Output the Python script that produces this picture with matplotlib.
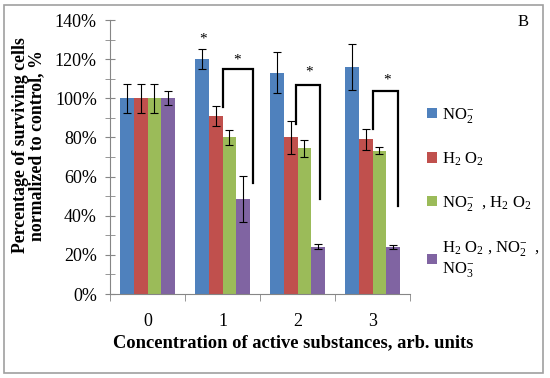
import numpy as np
import matplotlib
matplotlib.use("Agg")
import matplotlib.pyplot as plt
from matplotlib.patches import Rectangle
from matplotlib.ticker import MultipleLocator, FuncFormatter

plt.rcParams['font.family'] = ['Liberation Serif', 'DejaVu Serif']
plt.rcParams['mathtext.fontset'] = 'custom'
plt.rcParams['mathtext.rm'] = 'Liberation Serif'
plt.rcParams['mathtext.it'] = 'Liberation Serif'

# data (% of control)
concentrations = ['0', '1', '2', '3']
series_names = [r'NO$_2^{-}$', r'H$_2$ O$_2$', r'NO$_2^{-}$  , H$_2$ O$_2$',
                'H$_2$ O$_2$ , NO$_2^{-}$  ,\nNO$_3^{-}$']
no2 = [100, 120, 113, 116]
no2_err = [7.5, 5, 10.5, 11.5]
h2o2 = [100, 91, 80, 79]
h2o2_err = [7.5, 5.3, 8.3, 5.3]
mix2 = [100, 80, 74.5, 73.3]
mix2_err = [7.5, 3.8, 4.3, 2]
mix3 = [100, 48.6, 24.2, 24]
mix3_err = [3.5, 11.7, 1.2, 1]

# significance brackets: (x left, x right, top, left bottom, right bottom), star (x, y)
brackets = [(1.0, 1.41, 115, 95.8, 56.8), (1.98, 2.30, 107, 86.8, 48.4), (3.0, 3.34, 103.8, 84.4, 45.2)]
stars = [(0.74, 130.5), (1.2, 119.5), (2.15, 113.5), (3.2, 109.3)]

colors = ['#4F81BD', '#C0504D', '#9BBB59', '#8064A2']

fig = plt.figure(figsize=(5.5, 3.78), dpi=100)
ax = fig.add_axes([0.2, 0.2222, 0.5455, 0.7248])

x = np.arange(len(concentrations))
w = 0.1833
vals = [no2, h2o2, mix2, mix3]
errs = [no2_err, h2o2_err, mix2_err, mix3_err]
handles = []
for i, (v, e) in enumerate(zip(vals, errs)):
    b = ax.bar(x + (i - 1.5) * w, v, w, color=colors[i], yerr=e,
               error_kw=dict(ecolor='black', elinewidth=0.8, capsize=3, capthick=0.8))
    handles.append(b)

for xl, xr, top, lb, rb in brackets:
    ax.plot([xl, xl, xr, xr], [lb, top, top, rb], color='black', lw=1.6, solid_joinstyle='miter')
for sx, sy in stars:
    ax.text(sx, sy, '*', ha='center', va='center', fontsize=11)

ax.set_xlim(-0.5, 3.5)
ax.set_ylim(0, 140)
ax.yaxis.set_major_locator(MultipleLocator(20))
ax.yaxis.set_minor_locator(MultipleLocator(10))
ax.yaxis.set_major_formatter(FuncFormatter(lambda v, p: f'{int(v)}%'))
ax.set_xticks(x)
ax.set_xticklabels(concentrations)
ax.set_xticks(np.arange(-0.5, 4, 1), minor=True)
ax.tick_params(axis='x', which='major', length=0, pad=14, labelsize=13)
ax.tick_params(axis='x', which='minor', length=5, color='#868686')
ax.tick_params(axis='y', which='both', direction='inout', length=7, color='#868686',
               labelsize=13, pad=6)
for s in ['top', 'right']:
    ax.spines[s].set_visible(False)
for s in ['left', 'bottom']:
    ax.spines[s].set_color('#868686')

fig.text(0.533, 0.094, 'Concentration of active substances, arb. units',
         ha='center', va='center', fontsize=13.3, fontweight='bold')
fig.text(0.052, 0.615, 'Percentage of surviving cells\nnormalized to control, %',
         ha='center', va='center', rotation=90, fontsize=12.8, fontweight='bold',
         linespacing=1.0)
fig.text(0.951, 0.942, 'B', ha='center', va='center', fontsize=12)

fig.legend(handles, series_names, loc='upper left', bbox_to_anchor=(0.765, 0.738),
           frameon=False, fontsize=12, handlelength=0.6, handleheight=0.6,
           handletextpad=0.3, labelspacing=1.55, borderaxespad=0)

fig.add_artist(Rectangle((0.007, 0.013), 0.980, 0.975, transform=fig.transFigure,
                         fill=False, edgecolor='#A0A0A0', lw=1.2))

fig.savefig('out.png', dpi=100)
